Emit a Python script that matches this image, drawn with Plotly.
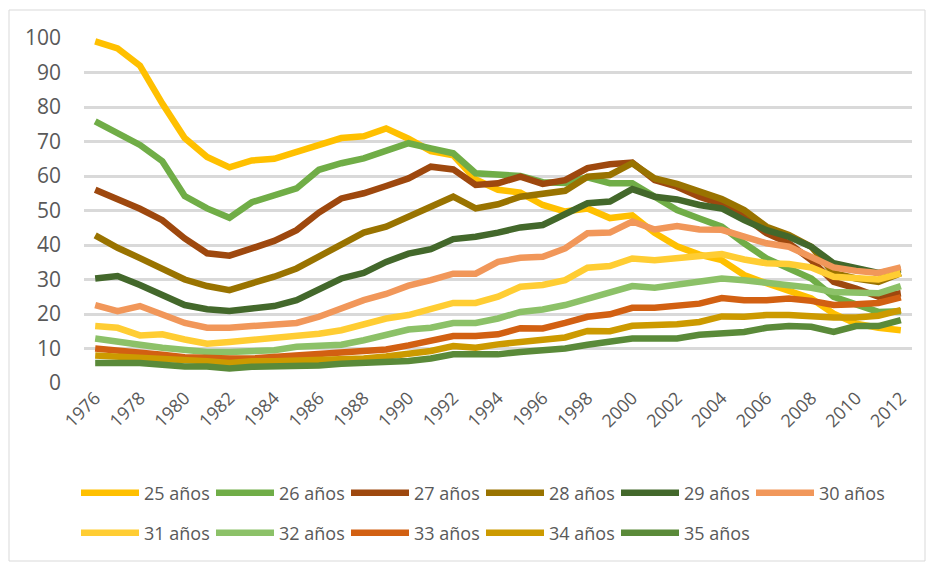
import plotly.graph_objects as go

# years on the category axis
years = list(range(1976, 2013))

# share by age
s25 = [99, 97, 92, 81, 71, 65.5, 62.5, 64.5, 65, 67, 69, 71, 71.5, 73.8, 70.8, 67.2, 66,
       59, 56, 55.2, 51.6, 49.7, 50.6, 47.8, 48.6, 43.5, 39.6, 37.2, 35.6,
       31.3, 28.9, 26.9, 24.5, 20.1, 17.2, 16, 15.3]
s26 = [75.8, 72.4, 69, 64.3, 54.2, 50.6, 47.9, 52.4, 54.5, 56.4, 61.8, 63.7, 65.1, 67.4, 69.5, 68, 66.6,
       60.8, 60.3, 60, 58.2, 58, 59.6, 57.9, 57.9, 54, 50.1, 47.7, 45.3,
       40.5, 36.1, 33.2, 30.3, 25, 22.6, 20.6, 20.8]
s27 = [56, 53.5, 50.5, 47.2, 41.9, 37.6, 36.9, 39, 41.2, 44.3, 49.4, 53.5, 55, 57.1, 59.3, 62.7, 61.9,
       57.4, 57.9, 59.8, 57.7, 58.8, 62.3, 63.4, 63.9, 58.8, 56.9, 54, 51.8,
       48.2, 43.4, 40.5, 35.6, 29.3, 27.4, 25, 26]
s28 = [42.8, 39.2, 36.2, 33.2, 30, 28.1, 26.9, 28.9, 30.8, 33.2, 36.6, 40, 43.6, 45.3, 48.2, 50.6, 54,
       50.6, 51.8, 54, 55, 55.7, 59.8, 60.3, 63.7, 59.3, 57.7, 55.5, 53.3,
       50.1, 45.3, 42.9, 39.5, 31.8, 30.3, 29.3, 31.8]
s29 = [30.3, 31, 28.4, 25.5, 22.6, 21.4, 20.9, 21.6, 22.3, 24, 27.4, 30.3, 31.9, 35.1, 37.5, 38.8, 41.7,
       42.4, 43.6, 45.1, 45.8, 48.7, 52.1, 52.6, 56.2, 54, 53.2, 51.6, 50.6,
       47.2, 44.3, 42.4, 39.5, 34.7, 33.5, 31.9, 32.9]
s30 = [22.6, 20.8, 22.3, 19.7, 17.4, 16, 16, 16.5, 17, 17.4, 19.2, 21.6, 24, 25.8, 28.2, 29.8, 31.7,
       31.7, 35.1, 36.3, 36.6, 39, 43.4, 43.6, 46.8, 44.5, 45.5, 44.5, 44.4,
       42.4, 40.5, 39.5, 36.6, 33.5, 32.5, 31.9, 33.5]
s31 = [16.5, 16, 13.8, 14.1, 12.6, 11.4, 11.9, 12.4, 12.9, 13.4, 14.3, 15.3, 17, 18.7, 19.7, 21.3, 23.2,
       23.2, 25, 27.9, 28.4, 29.8, 33.4, 33.9, 36.1, 35.6, 36.3, 36.8, 37.4,
       35.8, 34.7, 34.5, 33.5, 30.8, 30.3, 30, 31.8]
s32 = [12.9, 12.2, 11.1, 10.2, 9.5, 9, 9, 9.2, 9.5, 10.5, 10.7, 11.1, 12.4, 14.1, 15.5, 16, 17.4,
       17.4, 18.7, 20.6, 21.3, 22.6, 24.5, 26.4, 28.1, 27.6, 28.4, 29.3, 30.3,
       29.8, 29.1, 28.7, 27.6, 26.4, 26.4, 26, 28.1]
s33 = [10, 9.5, 8.7, 8.2, 7.5, 7.1, 7.1, 7.1, 7.5, 8.2, 8.7, 9, 9.2, 9.7, 10.9, 12.2, 13.6,
       13.6, 14.1, 15.9, 15.8, 17.4, 19.2, 19.9, 21.8, 21.8, 22.4, 23, 24.6,
       24, 24, 24.5, 23.8, 22.6, 22.8, 23.2, 24.8]
s34 = [8, 7.7, 7.5, 7.1, 6.6, 6.3, 5.8, 6.3, 6.3, 6.5, 6.6, 7, 7.1, 7.7, 8.3, 9.3, 10.7,
       10.2, 11.2, 11.9, 12.2, 13.2, 15.1, 15, 16.6, 16.6, 17, 17.7, 19.3,
       19.2, 19.7, 19.7, 19.2, 19, 19, 19.5, 21.1]
s35 = [5.8, 5.8, 5.8, 5.3, 4.8, 4.8, 4.2, 4.7, 4.7, 4.8, 5.1, 5.6, 5.8, 6.3, 6.4, 7.1, 8.3,
       8.3, 8.3, 9, 9.5, 10, 11.1, 12.2, 12.9, 12.9, 12.9, 14, 14.6,
       14.8, 16, 16.5, 16.3, 14.8, 16.5, 16.5, 18.2]

names = ["25 años", "26 años", "27 años", "28 años", "29 años", "30 años",
         "31 años", "32 años", "33 años", "34 años", "35 años"]
series = [s25, s26, s27, s28, s29, s30, s31, s32, s33, s34, s35]
colors = ["#FFC000", "#70AD47", "#9E480E", "#997300", "#43682B", "#F1975A",
          "#FFCD33", "#8CC168", "#D26012", "#CC9A00", "#5A8A39"]

xticks = list(range(1976, 2013, 2))

fig = go.Figure()
for i, (nm, ys, col) in enumerate(zip(names, series, colors)):
    fig.add_trace(go.Scatter(
        x=years, y=ys, name=nm, mode="lines",
        line=dict(color=col, width=6.5),
        legend="legend" if i < 6 else "legend2",
    ))

# page body has an 8px margin, so the figure is 8px smaller and shifted
W, H = 927, 555
font = "Open Sans, DejaVu Sans, sans-serif"
leg_common = dict(
    orientation="h", xref="container", yref="container",
    xanchor="left", yanchor="middle",
    entrywidth=62, entrywidthmode="pixels", itemwidth=58,
    font=dict(size=18, color="#595959"), bgcolor="rgba(0,0,0,0)",
)
fig.update_layout(
    width=W, height=H,
    margin=dict(l=76, r=23, t=30, b=180, autoexpand=False),
    plot_bgcolor="white", paper_bgcolor="white",
    font=dict(family=font, color="#595959"),
    xaxis=dict(
        range=[1975.5, 2012.5], tickvals=xticks, ticktext=[str(v) for v in xticks],
        tickangle=-45, showgrid=False, zeroline=False, showline=False,
        tickfont=dict(size=18, color="#595959"),
    ),
    yaxis=dict(
        range=[0, 100], dtick=10, showgrid=True, gridcolor="#D9D9D9", gridwidth=3,
        zeroline=False, showline=False, ticks="", ticklabelstandoff=22,
        tickfont=dict(size=21, color="#595959"),
    ),
    legend=dict(x=68 / W, y=1 - 485 / H, **leg_common),
    legend2=dict(x=68 / W, y=1 - 525 / H, **leg_common),
    shapes=[dict(type="rect", xref="paper", yref="paper",
                 x0=-75 / 828, x1=1 + 13 / 828, y0=-178 / 345, y1=1 + 28 / 345,
                 line=dict(color="#D9D9D9", width=1), layer="below")],
)

fig.write_html("out.html")
